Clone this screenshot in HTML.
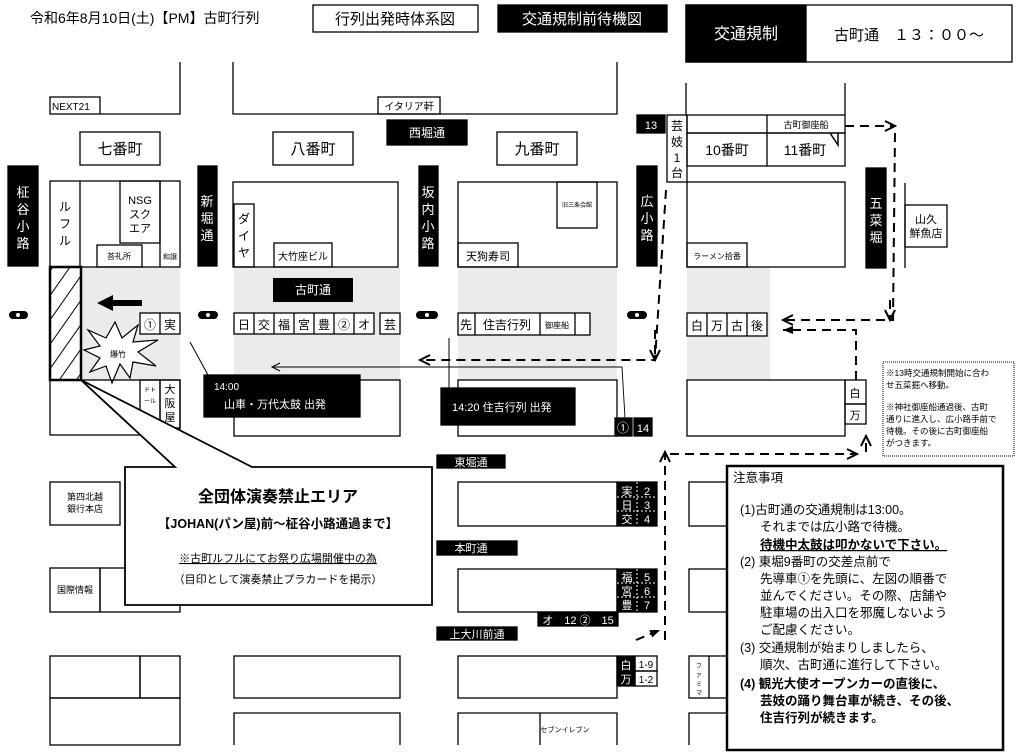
<!DOCTYPE html>
<html><head><meta charset="utf-8"><style>
html,body{margin:0;padding:0;background:#fff}
svg{display:block}
text{font-family:"Liberation Sans","Noto Sans CJK JP",sans-serif;fill:#000}
.w{fill:#fff}
</style></head><body>
<svg width="1024" height="753" viewBox="0 0 1024 753" xmlns="http://www.w3.org/2000/svg">
<defs>
<pattern id="h" width="14" height="14" patternUnits="userSpaceOnUse" patternTransform="rotate(35)">
<line x1="0" y1="0" x2="0" y2="14" stroke="#000" stroke-width="2"/>
</pattern>
<marker id="ao" markerUnits="userSpaceOnUse" markerWidth="14" markerHeight="14" refX="12" refY="7" orient="auto"><path d="M2,2 L12,7 L2,12" fill="none" stroke="#000" stroke-width="2"/></marker>
<marker id="af" markerUnits="userSpaceOnUse" markerWidth="12" markerHeight="12" refX="10" refY="6" orient="auto"><path d="M0,2 L10,6 L0,10z" fill="#000"/></marker>
<marker id="at" markerUnits="userSpaceOnUse" markerWidth="12" markerHeight="12" refX="10" refY="6" orient="auto"><path d="M2,2 L10,6 L2,10" fill="none" stroke="#000" stroke-width="1"/></marker>
</defs>
<g fill="none" stroke="#000" stroke-width="1.3">
<rect x="82" y="267" width="98" height="113" fill="#ebebeb" stroke="none"/>
<rect x="234" y="267" width="166" height="113" fill="#ebebeb" stroke="none"/>
<rect x="458" y="267" width="159" height="113" fill="#ebebeb" stroke="none"/>
<rect x="687" y="267" width="83" height="113" fill="#ebebeb" stroke="none"/>

<rect x="313" y="5" width="165" height="27"/>
<rect x="498" y="5" width="169" height="27" fill="#000"/>
<rect x="686" y="5" width="326" height="57"/>
<rect x="686" y="5" width="120" height="57" fill="#000"/>

<polyline points="180,62 180,114 100,114"/>
<rect x="50" y="97" width="50" height="17"/>
<polyline points="233,62 233,114 617,114 617,62"/>
<rect x="378" y="97" width="62" height="17"/>
<rect x="387" y="120" width="80" height="25" fill="#000"/>
<rect x="80" y="132" width="80" height="33"/>
<rect x="273" y="132" width="80" height="33"/>
<rect x="497" y="132" width="80" height="33"/>
<line x1="686" y1="83" x2="686" y2="115"/>
<line x1="845" y1="83" x2="845" y2="115"/>
<rect x="637" y="115" width="28" height="18" fill="#000"/>
<rect x="667" y="115" width="20" height="67"/>
<rect x="687" y="115" width="158" height="18"/>
<line x1="767" y1="115" x2="767" y2="166"/>
<rect x="687" y="133" width="158" height="33"/>

<rect x="8" y="166" width="30" height="100" fill="#000"/>
<rect x="198" y="166" width="19" height="100" fill="#000"/>
<rect x="419" y="166" width="19" height="100" fill="#000"/>
<rect x="637" y="166" width="20" height="100" fill="#000"/>
<rect x="866" y="168" width="20" height="100" fill="#000"/>

<rect x="50" y="181" width="130" height="86"/>
<line x1="80" y1="181" x2="80" y2="267"/>
<rect x="120" y="181" width="40" height="62"/>
<line x1="160" y1="181" x2="160" y2="267"/>
<rect x="97" y="245" width="45" height="22"/>
<rect x="233" y="182" width="165" height="85"/>
<rect x="234" y="204" width="20" height="63"/>
<rect x="274" y="243" width="58" height="24"/>
<rect x="458" y="182" width="159" height="85"/>
<rect x="557" y="182" width="40" height="46"/>
<rect x="458" y="243" width="60" height="24"/>
<rect x="687" y="182" width="158" height="85"/>
<rect x="687" y="243" width="60" height="24"/>
<line x1="905" y1="183" x2="905" y2="268"/>
<rect x="905" y="205" width="42" height="42"/>

<rect x="50" y="267" width="31" height="113" fill="url(#h)" stroke-width="2.5"/>

<g fill="#000" stroke="none">
<rect x="9" y="311" width="19" height="8" rx="4"/>
<rect x="198" y="311" width="20" height="8" rx="4"/>
<rect x="416" y="311" width="22" height="8" rx="4"/>
<rect x="627" y="311" width="20" height="8" rx="4"/>
</g>
<circle cx="18" cy="315" r="2" fill="#fff" stroke="none"/>
<circle cx="208" cy="315" r="2" fill="#fff" stroke="none"/>
<circle cx="427" cy="315" r="2" fill="#fff" stroke="none"/>
<circle cx="637" cy="315" r="2" fill="#fff" stroke="none"/>

<polygon points="97,303 113,295 113,300 142,300 142,306 113,306 113,311" fill="#000" stroke="none"/>

<rect x="140" y="313" width="40" height="21" fill="#fff"/><line x1="160" y1="313" x2="160" y2="334"/>
<rect x="234" y="313" width="140" height="21" fill="#fff"/>
<line x1="254" y1="313" x2="254" y2="334"/><line x1="274" y1="313" x2="274" y2="334"/><line x1="294" y1="313" x2="294" y2="334"/><line x1="314" y1="313" x2="314" y2="334"/><line x1="334" y1="313" x2="334" y2="334"/><line x1="354" y1="313" x2="354" y2="334"/>
<rect x="380" y="313" width="20" height="21" fill="#fff"/>
<rect x="458" y="313" width="132" height="22" fill="#fff"/>
<line x1="475" y1="313" x2="475" y2="335"/><line x1="540" y1="313" x2="540" y2="335"/><line x1="575" y1="313" x2="575" y2="335"/>
<rect x="687" y="313" width="80" height="23" fill="#fff"/>
<line x1="707" y1="313" x2="707" y2="336"/><line x1="727" y1="313" x2="727" y2="336"/><line x1="747" y1="313" x2="747" y2="336"/>

<polygon fill="#fff" points="115,322 122,338 138,325 133,342 158,340 138,352 156,366 133,362 130,378 120,364 112,383 106,366 90,372 100,358 84,350 100,346 88,330 106,338" stroke-width="1.2"/>

<line x1="190" y1="342" x2="208" y2="375" stroke-width="1"/>
<rect x="50" y="380" width="130" height="55"/>
<rect x="140" y="380" width="20" height="43"/>
<rect x="160" y="380" width="20" height="48"/>
<rect x="234" y="380" width="166" height="56"/>
<rect x="204" y="375" width="156" height="42" fill="#000"/>
<rect x="458" y="380" width="159" height="56"/>
<line x1="449" y1="338" x2="449" y2="390" stroke-width="1"/>
<rect x="441" y="388" width="134" height="37" fill="#000"/>
<rect x="615" y="418" width="17" height="18" fill="#000"/>
<rect x="634" y="418" width="18" height="18" fill="#000"/>
<polyline points="625,418 622,367 272,367" stroke-width="0.9" marker-end="url(#at)"/>
<rect x="687" y="380" width="158" height="56"/>
<rect x="845" y="380" width="21" height="24"/><rect x="845" y="404" width="21" height="20"/>

<g stroke-dasharray="9,6" stroke-width="2">
<polyline points="666,190 655,360 420,360" marker-end="url(#ao)"/>
<line x1="655" y1="330" x2="655" y2="360" marker-end="url(#ao)"/>
<polyline points="845,126 895,126" marker-end="url(#ao)"/>
<polyline points="895,133 893,320 783,320" marker-end="url(#ao)"/>
<line x1="890" y1="300" x2="890" y2="320" marker-end="url(#ao)"/>
<polyline points="856,380 856,330 783,330" marker-end="url(#af)"/>
<polyline points="665,640 665,452" marker-end="url(#ao)"/>
<polyline points="670,454 857,454" marker-end="url(#ao)"/>
<line x1="866" y1="452" x2="866" y2="436" marker-end="url(#ao)"/>
<line x1="636" y1="640" x2="660" y2="630" marker-end="url(#af)"/>
</g>
<polyline points="830,133 838,145 838,133" stroke-width="1.5"/>

<rect x="883" y="362" width="131" height="94" stroke-dasharray="1,1" stroke-width="1"/>

<rect x="437" y="455" width="68" height="13" fill="#000"/>
<rect x="437" y="541" width="80" height="14" fill="#000"/>
<rect x="437" y="627" width="80" height="13" fill="#000"/>
<rect x="50" y="482" width="70" height="43"/>
<rect x="50" y="568" width="50" height="44"/><rect x="100" y="568" width="80" height="44"/>
<rect x="50" y="656" width="90" height="42"/><rect x="140" y="656" width="40" height="42"/><rect x="50" y="698" width="130" height="47"/>
<rect x="234" y="656" width="166" height="42"/>
<polyline points="234,745 234,713 400,713 400,745"/>
<rect x="458" y="482" width="159" height="44"/>
<rect x="617" y="482" width="20" height="44" fill="#000"/><rect x="637" y="482" width="20" height="44" fill="#000"/>
<rect x="458" y="569" width="159" height="43"/>
<rect x="617" y="569" width="20" height="43" fill="#000"/><rect x="637" y="569" width="20" height="43" fill="#000"/>
<rect x="538" y="612" width="80" height="14" fill="#000"/>
<rect x="458" y="656" width="159" height="42"/>
<rect x="617" y="656" width="18" height="30" fill="#000"/>
<rect x="635" y="656" width="22" height="15"/><rect x="635" y="671" width="22" height="15"/>
<polyline points="458,745 458,713 617,713 617,745"/>
<polyline points="540,745 540,713"/>
<rect x="689" y="482" width="40" height="44"/>
<rect x="689" y="569" width="40" height="43"/>
<rect x="689" y="656" width="40" height="42"/><line x1="709" y1="656" x2="709" y2="698"/>
<polyline points="689,745 689,713 729,713"/>
<g stroke="#fff" stroke-dasharray="2,2" stroke-width="1">
<line x1="637" y1="482" x2="637" y2="526"/><line x1="617" y1="497" x2="657" y2="497"/><line x1="617" y1="511" x2="657" y2="511"/>
<line x1="637" y1="569" x2="637" y2="612"/><line x1="617" y1="583" x2="657" y2="583"/><line x1="617" y1="597" x2="657" y2="597"/>
</g>

<polygon points="81,380 175,467 125,467 125,605 432,605 432,467 252,467" fill="#fff" stroke-width="1.8"/>
<rect x="727" y="466" width="276" height="284" fill="#fff" stroke-width="2.5"/>
</g>

<text x="30" y="23" font-size="14">令和6年8月10日(土)【PM】古町行列</text>
<text x="395" y="24" font-size="15" text-anchor="middle">行列出発時体系図</text>
<text x="582" y="24" font-size="15" text-anchor="middle" class="w">交通規制前待機図</text>
<text x="746" y="39" font-size="16" text-anchor="middle" class="w">交通規制</text>
<text x="834" y="40" font-size="15">古町通　１３：００～</text>
<text x="52" y="110" font-size="10">NEXT21</text>
<text x="409" y="110" font-size="10" text-anchor="middle">イタリア軒</text>
<text x="427" y="137" font-size="12" text-anchor="middle" class="w">西堀通</text>
<text x="120" y="154" font-size="15" text-anchor="middle">七番町</text>
<text x="313" y="154" font-size="15" text-anchor="middle">八番町</text>
<text x="537" y="154" font-size="15" text-anchor="middle">九番町</text>
<text x="651" y="129" font-size="11" text-anchor="middle" class="w">13</text>
<g font-size="12" text-anchor="middle"><text x="677" y="130">芸</text><text x="677" y="146">妓</text><text x="677" y="162">1</text><text x="677" y="177">台</text></g>
<text x="806" y="128" font-size="9" text-anchor="middle">古町御座船</text>
<text x="727" y="155" font-size="14" text-anchor="middle">10番町</text>
<text x="805" y="155" font-size="14" text-anchor="middle">11番町</text>

<g font-size="13" text-anchor="middle" class="w">
<text x="23" y="197" class="w">柾</text><text x="23" y="214" class="w">谷</text><text x="23" y="231" class="w">小</text><text x="23" y="248" class="w">路</text>
<text x="207" y="206" class="w">新</text><text x="207" y="223" class="w">堀</text><text x="207" y="240" class="w">通</text>
<text x="428" y="197" class="w">坂</text><text x="428" y="214" class="w">内</text><text x="428" y="231" class="w">小</text><text x="428" y="248" class="w">路</text>
<text x="647" y="206" class="w">広</text><text x="647" y="223" class="w">小</text><text x="647" y="240" class="w">路</text>
<text x="876" y="208" class="w">五</text><text x="876" y="225" class="w">菜</text><text x="876" y="242" class="w">堀</text>
</g>

<g font-size="12" text-anchor="middle">
<text x="65" y="211">ル</text><text x="65" y="228">フ</text><text x="65" y="245">ル</text>
<text x="140" y="204" font-size="11">NSG</text><text x="140" y="218" font-size="11">スク</text><text x="140" y="232" font-size="11">エア</text>
<text x="119" y="259" font-size="8">荅礼所</text>
<text x="170" y="259" font-size="7">和譲</text>
<text x="244" y="223">ダ</text><text x="244" y="240">イ</text><text x="244" y="257">ヤ</text>
<text x="303" y="260" font-size="10">大竹座ビル</text>
<text x="577" y="207" font-size="6">旧三条会館</text>
<text x="488" y="260" font-size="11">天狗寿司</text>
<text x="717" y="259" font-size="8">ラーメン拾番</text>
<text x="926" y="223" font-size="11">山久</text><text x="926" y="237" font-size="11">鮮魚店</text>
</g>
<rect x="273" y="278" width="80" height="24" fill="#000"/>
<text x="313" y="294" font-size="12" text-anchor="middle" class="w">古町通</text>

<g font-size="12" text-anchor="middle">
<text x="150" y="329">①</text><text x="170" y="329">実</text>
<text x="244" y="329">日</text><text x="264" y="329">交</text><text x="284" y="329">福</text><text x="304" y="329">宮</text><text x="324" y="329">豊</text><text x="344" y="329">②</text><text x="364" y="329">オ</text><text x="390" y="329">芸</text>
<text x="466" y="329">先</text><text x="507" y="329">住吉行列</text><text x="557" y="328" font-size="8">御座船</text>
<text x="697" y="330">白</text><text x="717" y="330">万</text><text x="737" y="330">古</text><text x="757" y="330">後</text>
<text x="118" y="357" font-size="8">爆竹</text>
<text x="150" y="392" font-size="6">ドト</text><text x="150" y="403" font-size="6">ール</text>
<text x="170" y="393" font-size="11">大</text><text x="170" y="407" font-size="11">阪</text><text x="170" y="421" font-size="11">屋</text>
<text x="855" y="397" font-size="11">白</text><text x="855" y="419" font-size="11">万</text>
<text x="623" y="432" class="w">①</text><text x="643" y="432" font-size="11" class="w">14</text>
</g>
<text x="214" y="390" font-size="10" class="w">14:00</text>
<text x="224" y="408" font-size="11" class="w">山車・万代太鼓 出発</text>
<text x="452" y="411" font-size="11" class="w">14:20  住吉行列 出発</text>

<g font-size="8.5">
<text x="886" y="376">※13時交通規制開始に合わ</text>
<text x="886" y="388">せ五菜掘へ移動。</text>
<text x="886" y="410">※神社御座船通過後、古町</text>
<text x="886" y="422">通りに進入し、広小路手前で</text>
<text x="886" y="434">待機。その後に古町御座船</text>
<text x="886" y="446">がつきます。</text>
</g>

<text x="471" y="466" font-size="11" text-anchor="middle" class="w">東堀通</text>
<text x="471" y="552" font-size="11" text-anchor="middle" class="w">本町通</text>
<text x="477" y="638" font-size="11" text-anchor="middle" class="w">上大川前通</text>
<g font-size="9" text-anchor="middle">
<text x="85" y="500">第四北越</text><text x="85" y="512">銀行本店</text>
<text x="75" y="593">国際情報</text>
<text x="565" y="732" font-size="7">セブンイレブン</text>
<text x="699" y="668" font-size="6">フ</text><text x="699" y="677" font-size="6">ァ</text><text x="699" y="686" font-size="6">ミ</text><text x="699" y="695" font-size="6">マ</text>
</g>
<g font-size="11" text-anchor="middle" class="w">
<text x="627" y="495" class="w">実</text><text x="627" y="509" class="w">日</text><text x="627" y="523" class="w">交</text>
<text x="647" y="495" class="w">2</text><text x="647" y="509" class="w">3</text><text x="647" y="523" class="w">4</text>
<text x="627" y="581" class="w">福</text><text x="627" y="595" class="w">宮</text><text x="627" y="609" class="w">豊</text>
<text x="647" y="581" class="w">5</text><text x="647" y="595" class="w">6</text><text x="647" y="609" class="w">7</text>
<text x="578" y="624" class="w">オ　12 ②　15</text>
<text x="626" y="669" class="w">白</text><text x="626" y="683" class="w">万</text>
</g>
<text x="646" y="668" font-size="10" text-anchor="middle">1-9</text>
<text x="646" y="683" font-size="10" text-anchor="middle">1-2</text>

<text x="278" y="502" font-size="16" font-weight="bold" text-anchor="middle">全団体演奏禁止エリア</text>
<text x="278" y="528" font-size="12.5" font-weight="bold" text-anchor="middle">【JOHAN(パン屋)前～柾谷小路通過まで】</text>
<text x="278" y="562" font-size="11" text-anchor="middle" text-decoration="underline">※古町ルフルにてお祭り広場開催中の為</text>
<text x="278" y="583" font-size="11" text-anchor="middle">（目印として演奏禁止プラカードを掲示）</text>

<g font-size="12.5">
<text x="733" y="482">注意事項</text>
<text x="740" y="514">(1)古町通の交通規制は13:00。</text>
<text x="760" y="531">それまでは広小路で待機。</text>
<text x="760" y="549" font-weight="bold" text-decoration="underline">待機中太鼓は叩かないで下さい。</text>
<text x="740" y="566">(2) 東堀9番町の交差点前で</text>
<text x="760" y="583">先導車①を先頭に、左図の順番で</text>
<text x="760" y="600">並んでください。その際、店舗や</text>
<text x="760" y="617">駐車場の出入口を邪魔しないよう</text>
<text x="760" y="634">ご配慮ください。</text>
<text x="740" y="652">(3) 交通規制が始まりしましたら、</text>
<text x="760" y="669">順次、古町通に進行して下さい。</text>
<text x="740" y="688" font-weight="bold">(4) 観光大使オープンカーの直後に、</text>
<text x="760" y="705" font-weight="bold">芸妓の踊り舞台車が続き、その後、</text>
<text x="760" y="722" font-weight="bold">住吉行列が続きます。</text>
</g>
</svg>
</body></html>
